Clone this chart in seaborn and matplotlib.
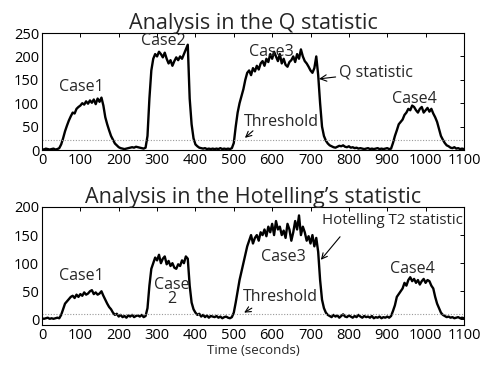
import numpy as np
import pandas as pd
import matplotlib
matplotlib.use("Agg")
import matplotlib.pyplot as plt
import seaborn as sns

# ---- data (5 s resolution) ----
time_s = list(range(0, 1101, 5))

q_stat = [
    2, 1, 3, 2, 1, 2, 3, 1, 2, 4,
    12, 25, 40, 52, 63, 72, 80, 78, 88, 92,
    95, 100, 97, 104, 99, 106, 101, 108, 98, 110,
    103, 112, 95, 70, 55, 42, 30, 22, 14, 10,
    6, 4, 3, 2, 3, 4, 5, 6, 5, 7,
    6, 5, 4, 3, 5, 30, 110, 170, 195, 205,
    200, 210, 205, 198, 208, 195, 185, 192, 180, 190,
    198, 192, 200, 195, 205, 215, 225, 110, 55, 25,
    12, 8, 5, 4, 3, 4, 2, 3, 2, 3,
    2, 3, 2, 4, 2, 3, 2, 3, 2, 4,
    15, 50, 80, 100, 115, 130, 150, 165, 170, 160,
    175, 168, 180, 172, 185, 190, 180, 195, 188, 205,
    195, 210, 200, 190, 205, 185, 195, 182, 178, 188,
    192, 200, 188, 205, 195, 215, 200, 190, 185, 178,
    170, 165, 175, 200, 160, 100, 50, 30, 20, 14,
    10, 8, 6, 5, 7, 9, 8, 10, 7, 6,
    8, 5, 6, 4, 5, 3, 4, 3, 2, 3,
    4, 2, 3, 2, 3, 4, 2, 3, 2, 3,
    4, 2, 3, 15, 30, 42, 55, 60, 65, 75,
    80, 88, 85, 95, 92, 85, 80, 88, 92, 80,
    85, 90, 82, 88, 78, 70, 60, 45, 30, 22,
    15, 10, 8, 5, 4, 6, 3, 4, 2, 3,
    2,
]

t2_stat = [
    2, 1, 2, 3, 1, 2, 1, 2, 3, 2,
    8, 18, 28, 32, 36, 40, 42, 38, 44, 40,
    45, 42, 48, 44, 46, 50, 52, 45, 48, 44,
    46, 50, 42, 35, 28, 22, 18, 12, 8, 10,
    5, 8, 4, 6, 3, 7, 5, 8, 4, 6,
    7, 5, 8, 4, 6, 20, 60, 90, 100, 110,
    105, 115, 100, 108, 112, 98, 104, 95, 100, 92,
    90, 98, 95, 105, 100, 112, 108, 60, 30, 18,
    12, 8, 10, 5, 8, 4, 7, 3, 6, 5,
    4, 6, 3, 5, 2, 4, 5, 3, 2, 4,
    12, 30, 50, 70, 85, 100, 115, 130, 140, 150,
    135, 145, 150, 140, 155, 150, 160, 148, 165, 155,
    170, 150, 175, 160, 165, 150, 158, 145, 170, 160,
    140, 155, 175, 160, 185, 150, 165, 155, 140, 148,
    135, 150, 130, 145, 120, 70, 35, 20, 12, 8,
    6, 4, 8, 5, 7, 3, 6, 9, 5, 4,
    7, 5, 3, 6, 4, 8, 5, 3, 6, 4,
    5, 3, 6, 2, 4, 3, 5, 2, 4, 3,
    5, 3, 6, 15, 25, 40, 45, 50, 55, 65,
    60, 70, 75, 68, 72, 65, 70, 62, 68, 72,
    65, 70, 68, 60, 55, 40, 28, 20, 12, 8,
    6, 4, 5, 3, 4, 2, 3, 4, 2, 3,
    2,
]

q_threshold = 22
t2_threshold = 10

x_ticks = list(range(0, 1101, 100))
q_yticks = [0, 50, 100, 150, 200, 250]
t2_yticks = [0, 50, 100, 150, 200]

titles = ["Analysis in the Q statistic", "Analysis in the Hotelling\u2019s statistic"]
x_label = "Time (seconds)"

df_q = pd.DataFrame({"t": time_s, "v": q_stat})
df_t2 = pd.DataFrame({"t": time_s, "v": t2_stat})

# ---- style ----
sns.set_style("white")
plt.rcParams["font.family"] = ["Open Sans", "DejaVu Sans"]
plt.rcParams["axes.linewidth"] = 0.8
plt.rcParams["xtick.direction"] = "in"
plt.rcParams["ytick.direction"] = "in"

fig = plt.figure(figsize=(4.85, 3.65), dpi=100)
ax1 = fig.add_axes([0.0866, 0.589, 0.870, 0.3205])
ax2 = fig.add_axes([0.0866, 0.1096, 0.870, 0.3233])

for ax, df, thr, yt, ylim, title in [
    (ax1, df_q, q_threshold, q_yticks, (0, 250), titles[0]),
    (ax2, df_t2, t2_threshold, t2_yticks, (-10, 200), titles[1]),
]:
    sns.lineplot(data=df, x="t", y="v", ax=ax, color="black", linewidth=1.7)
    ax.axhline(thr, color="#999999", linestyle=(0, (1, 1.5)), linewidth=0.8)
    ax.set_xlim(0, 1100)
    ax.set_ylim(*ylim)
    ax.set_xticks(x_ticks)
    ax.set_yticks(yt)
    ax.tick_params(axis="both", which="both", direction="in", length=3,
                   width=0.7, labelsize=10.5, pad=2, top=True, right=True,
                   colors="black")
    ax.set_xlabel("")
    ax.set_ylabel("")
    ax.set_title(title, fontsize=15.5, pad=3)
    for s in ax.spines.values():
        s.set_color("black")

ax2.set_xlabel(x_label, fontsize=9.5, labelpad=1)

fs = 11.5
# top annotations
ax1.text(102, 135, "Case1", ha="center", va="center", fontsize=fs)
ax1.text(316, 233, "Case2", ha="center", va="center", fontsize=fs)
ax1.text(599, 210, "Case3", ha="center", va="center", fontsize=fs)
ax1.text(970, 109, "Case4", ha="center", va="center", fontsize=fs)
ax1.annotate("Q statistic", xy=(722, 152), xytext=(774, 166),
             ha="left", va="center", fontsize=fs,
             arrowprops=dict(arrowstyle="->", color="black", lw=0.8,
                             shrinkA=0, shrinkB=0))
ax1.text(623, 60, "Threshold", ha="center", va="center", fontsize=fs)
ax1.annotate("", xy=(529, 26), xytext=(550, 41),
             arrowprops=dict(arrowstyle="->", color="black", lw=0.8,
                             shrinkA=0, shrinkB=0))

# bottom annotations
ax2.text(102, 77, "Case1", ha="center", va="center", fontsize=fs)
ax2.text(338, 49, "Case\n2", ha="center", va="center", fontsize=fs,
         linespacing=0.85)
ax2.text(628, 111, "Case3", ha="center", va="center", fontsize=fs)
ax2.text(966, 90, "Case4", ha="center", va="center", fontsize=fs)
ax2.text(621, 40, "Threshold", ha="center", va="center", fontsize=fs)
ax2.annotate("", xy=(527, 12), xytext=(547, 20),
             arrowprops=dict(arrowstyle="->", color="black", lw=0.8,
                             shrinkA=0, shrinkB=0))
ax2.text(729, 176, "Hotelling T2 statistic", ha="left", va="center",
         fontsize=10.8, clip_on=True)
ax2.annotate("", xy=(727, 106), xytext=(777, 147),
             arrowprops=dict(arrowstyle="->", color="black", lw=0.8,
                             shrinkA=0, shrinkB=0))

fig.savefig("out.png", dpi=100, facecolor="white")
